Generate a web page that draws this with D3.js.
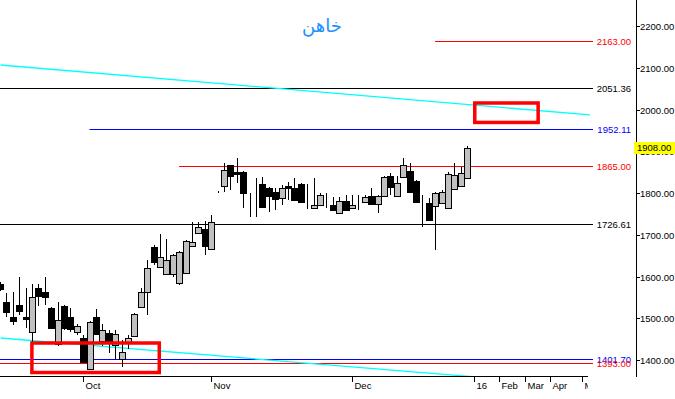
<!DOCTYPE html>
<html>
<head>
<meta charset="utf-8">
<script src="https://cdn.jsdelivr.net/npm/d3@7"></script>
<style>
    body { margin: 0; background: #fff; }
    svg { display: block; font-family: "Liberation Sans", Arial, sans-serif; }
    .title { font-family: "DejaVu Sans", sans-serif; font-size: 18px; fill: #1e90ff; }
    .tickText { font-size: 9.5px; fill: #000; }
</style>
</head>
<body>
<script>
(function(){

    //daily candles, oldest first (first one is cut by the left edge): open, high, low, close
    var opens  = [1582,1539,1503,1532,1503,1467,1572,1563,1525,1438,1529,1503,1467,1453,1378,1503,1446,1465,1436,1402,1443,
                  1457,1527,1563,1671,1623,1606,1606,1584,1608,1673,1704,1714,1666,1802,1817,1867,1850,1850,1766,1798,
                  1822,1812,1802,1788,1817,1812,1822,1764,1764,1771,1795,1771,1752,1781,1764,1786,1778,1793,1774,1793,
                  1841,1793,1838,1853,1829,1783,1776,1769,1776,1764,1810,1817,1836];
    var highs  = [1587,1560,1563,1599,1572,1582,1582,1599,1527,1539,1532,1525,1486,1460,1493,1522,1486,1472,1472,1448,1460,
                  1513,1572,1640,1675,1702,1690,1654,1661,1687,1731,1731,1733,1747,1805,1872,1867,1884,1853,1800,1836,
                  1838,1814,1812,1819,1826,1836,1824,1822,1836,1800,1800,1790,1790,1795,1795,1795,1795,1812,1795,1841,
                  1848,1841,1884,1872,1831,1795,1788,1802,1807,1850,1872,1862,1913];
    var lows   = [1565,1504,1484,1508,1477,1443,1529,1531,1474,1434,1472,1467,1460,1393,1376,1460,1434,1417,1402,1383,1426,
                  1455,1524,1508,1628,1620,1604,1599,1580,1606,1671,1702,1652,1663,1800,1802,1807,1824,1764,1743,1743,
                  1764,1755,1759,1771,1783,1781,1776,1762,1762,1769,1764,1757,1750,1757,1762,1759,1776,1771,1752,1790,
                  1795,1790,1836,1800,1776,1718,1735,1663,1774,1762,1807,1814,1834];
    var closes = [1570,1515,1493,1517,1498,1551,1553,1551,1477,1496,1477,1474,1481,1395,1491,1462,1472,1443,1462,1419,1453,
                  1510,1563,1620,1635,1647,1640,1652,1659,1685,1683,1719,1673,1731,1802,1855,1841,1846,1800,1766,1798,
                  1766,1793,1786,1812,1812,1783,1778,1764,1771,1795,1795,1759,1781,1759,1771,1786,1790,1774,1793,1838,
                  1814,1824,1867,1802,1778,1783,1735,1800,1802,1846,1843,1848,1908];

    //month ticks on the time axis (bar index) and their labels
    var monthIdx = [13, 33, 55, 74, 78, 82, 86, 91];
    var monthLabels = ["Oct", "Nov", "Dec", "16", "Feb", "Mar", "Apr", "May"];

    //price axis ticks
    var priceTicks = [1400, 1500, 1600, 1700, 1800, 1900, 2000, 2100, 2200];

    //horizontal levels: price, bar index where they start, colour
    var levelPrices = [2163.00, 2051.36, 1952.11, 1865.00, 1726.61, 1401.70, 1393.00];
    var levelStart  = [68, -2, 14, 28, -2, -2, -2];
    var levelColors = ["#ff0000", "#000000", "#0000ff", "#ff0000", "#000000", "#0000ff", "#ff0000"];

    //cyan trend lines: [index, price] pairs
    var trendUpper = [[0.1, 2106.6], [92.2, 1987.0]];
    var trendLower = [[0.1, 1452.7], [81, 1351.0]];

    //red highlight boxes: [index from, index to, price top, price bottom]
    var boxes = [[5, 24.9, 1440.7, 1370.0], [74.2, 84.1, 2015.6, 1969.0]];

    var lastPrice = 1908.00;

    window.onload = setChart();

    function setChart(){
        var width = 675,
            height = 399,
            plotRight = 588,
            axisX = 636,
            axisY = 376;

        var svg = d3.select("body")
            .append("svg")
            .attr("width", width)
            .attr("height", height);

        //scales: bar index to x, price to y
        var x = d3.scaleLinear().domain([1, 73]).range([6.3, 467.1]);
        var y = d3.scaleLinear().domain([1400, 2200]).range([360, 26]);

        svg.append("defs").append("clipPath")
            .attr("id", "plotClip")
            .append("rect")
            .attr("x", 0).attr("y", 0)
            .attr("width", plotRight + 5).attr("height", axisY);

        svg.append("defs").append("clipPath")
            .attr("id", "timeClip")
            .append("rect")
            .attr("x", 0).attr("y", axisY)
            .attr("width", plotRight).attr("height", height - axisY);

        var plot = svg.append("g").attr("clip-path", "url(#plotClip)");

        //title
        svg.append("text")
            .attr("class", "title")
            .attr("x", 322)
            .attr("y", 32)
            .attr("text-anchor", "middle")
            .text("خاهن");

        //level lines
        levelPrices.forEach(function(p, i){
            plot.append("line")
                .attr("x1", Math.max(0, x(levelStart[i])))
                .attr("x2", 593)
                .attr("y1", Math.round(y(p)) + 0.5)
                .attr("y2", Math.round(y(p)) + 0.5)
                .attr("stroke", levelColors[i])
                .attr("stroke-width", 1);
            svg.append("text")
                .attr("class", "tickText")
                .attr("x", 631)
                .attr("y", Math.round(y(p)) + 0.5)
                .attr("dy", "0.35em")
                .attr("text-anchor", "end")
                .style("fill", levelColors[i])
                .text(p.toFixed(2));
        });

        //trend lines
        [trendUpper, trendLower].forEach(function(t){
            plot.append("line")
                .attr("x1", x(t[0][0])).attr("y1", y(t[0][1]))
                .attr("x2", x(t[1][0])).attr("y2", y(t[1][1]))
                .attr("stroke", "#00ffff")
                .attr("stroke-width", 1.3);
        });

        //candles
        var candles = plot.selectAll(".candle")
            .data(opens.map(function(o, i){
                return { i: i, o: o, h: highs[i], l: lows[i], c: closes[i] };
            }))
            .enter()
            .append("g")
            .attr("class", "candle");

        candles.append("line")
            .attr("x1", function(d){ return Math.round(x(d.i)) + 0.5; })
            .attr("x2", function(d){ return Math.round(x(d.i)) + 0.5; })
            .attr("y1", function(d){ return Math.round(y(d.h)); })
            .attr("y2", function(d){ return Math.round(y(d.l)); })
            .attr("stroke", "#000");

        candles.append("rect")
            .attr("x", function(d){ return Math.round(x(d.i)) - 2.5; })
            .attr("width", 6)
            .attr("y", function(d){ return Math.round(y(Math.max(d.o, d.c))) + 0.5; })
            .attr("height", function(d){
                return Math.max(0, Math.round(y(Math.min(d.o, d.c))) - Math.round(y(Math.max(d.o, d.c))));
            })
            .attr("fill", function(d){ return d.c > d.o ? "#c0c0c0" : "#000"; })
            .attr("stroke", "#000");

        //red boxes
        boxes.forEach(function(b){
            plot.append("rect")
                .attr("x", x(b[0]))
                .attr("y", y(b[2]))
                .attr("width", x(b[1]) - x(b[0]))
                .attr("height", y(b[3]) - y(b[2]))
                .attr("fill", "none")
                .attr("stroke", "#ff0000")
                .attr("stroke-width", 3.5);
        });

        //time axis
        svg.append("line")
            .attr("x1", 0).attr("x2", plotRight)
            .attr("y1", axisY + 0.5).attr("y2", axisY + 0.5)
            .attr("stroke", "#000");

        var timeAxis = svg.append("g").attr("clip-path", "url(#timeClip)");
        monthIdx.forEach(function(m, i){
            var tx = Math.round(x(m)) + 0.5;
            timeAxis.append("line")
                .attr("x1", tx).attr("x2", tx)
                .attr("y1", axisY).attr("y2", axisY + 6)
                .attr("stroke", "#000");
            timeAxis.append("text")
                .attr("class", "tickText")
                .attr("x", tx + 2)
                .attr("y", 389)
                .text(monthLabels[i]);
        });

        //price axis
        svg.append("line")
            .attr("x1", axisX + 0.5).attr("x2", axisX + 0.5)
            .attr("y1", 0).attr("y2", axisY + 1)
            .attr("stroke", "#000");

        priceTicks.forEach(function(p){
            var ty = Math.round(y(p)) + 0.5;
            svg.append("line")
                .attr("x1", axisX).attr("x2", axisX + 4)
                .attr("y1", ty).attr("y2", ty)
                .attr("stroke", "#000");
            svg.append("text")
                .attr("class", "tickText")
                .attr("x", axisX + 4)
                .attr("y", ty)
                .attr("dy", "0.35em")
                .text(p.toFixed(2));
        });

        //last price marker
        var ly = Math.round(y(lastPrice));
        svg.append("rect")
            .attr("x", 634)
            .attr("y", ly - 6)
            .attr("width", 41)
            .attr("height", 12)
            .attr("fill", "#ffff00");
        svg.append("text")
            .attr("class", "tickText")
            .attr("x", 637)
            .attr("y", ly)
            .attr("dy", "0.35em")
            .text(lastPrice.toFixed(2));
    };

})();
</script>
</body>
</html>
